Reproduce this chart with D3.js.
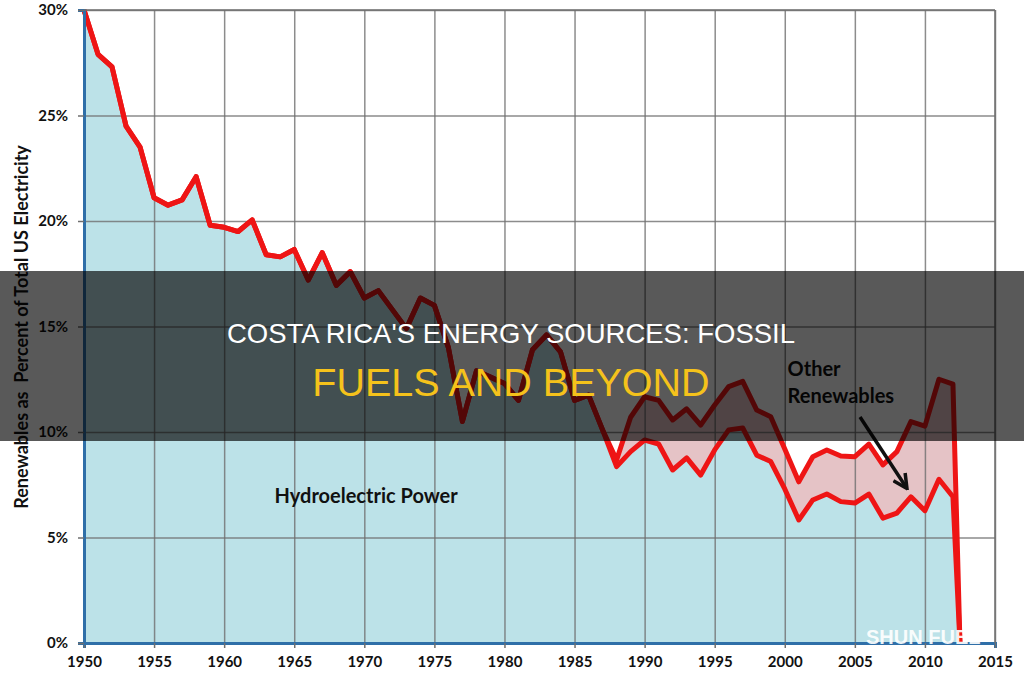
<!DOCTYPE html>
<html>
<head>
<meta charset="utf-8">
<script src="https://cdn.jsdelivr.net/npm/d3@7"></script>
<style>
  body { margin: 0; background: #fff; }
  svg { display: block; }
</style>
</head>
<body>
<div id="chart"></div>
<script>
var years = [1950, 1951, 1952, 1953, 1954, 1955, 1956, 1957, 1958, 1959,
    1960, 1961, 1962, 1963, 1964, 1965, 1966, 1967, 1968, 1969,
    1970, 1971, 1972, 1973, 1974, 1975, 1976, 1977, 1978, 1979,
    1980, 1981, 1982, 1983, 1984, 1985, 1986, 1987, 1988, 1989,
    1990, 1991, 1992, 1993, 1994, 1995, 1996, 1997, 1998, 1999,
    2000, 2001, 2002, 2003, 2004, 2005, 2006, 2007, 2008, 2009,
    2010, 2011, 2012, 2012.5];

// all renewables, % of total electricity
var totalPct = [30.0, 27.9, 27.3, 24.5, 23.5, 21.1, 20.75, 21.0, 22.1, 19.8,
    19.7, 19.5, 20.05, 18.4, 18.3, 18.65, 17.2, 18.5, 16.95, 17.6,
    16.35, 16.7, 15.8, 14.9, 16.35, 16.0, 14.0, 10.5, 12.9, 12.6,
    12.3, 11.5, 13.9, 14.6, 13.8, 11.5, 11.75, 10.1, 8.67, 10.7,
    11.67, 11.5, 10.57, 11.1, 10.33, 11.28, 12.15, 12.4, 11.04, 10.72,
    9.2, 7.64, 8.83, 9.15, 8.86, 8.83, 9.43, 8.44, 9.07, 10.49,
    10.28, 12.5, 12.27, 0];

// hydroelectric only
var hydroPct = [30.0, 27.9, 27.3, 24.5, 23.5, 21.1, 20.75, 21.0, 22.1, 19.8,
    19.7, 19.5, 20.05, 18.4, 18.3, 18.65, 17.2, 18.5, 16.95, 17.6,
    16.35, 16.7, 15.8, 14.9, 16.35, 16.0, 14.0, 10.5, 12.9, 12.6,
    12.3, 11.5, 13.9, 14.6, 13.8, 11.5, 11.75, 10.1, 8.36, 9.07,
    9.62, 9.43, 8.2, 8.77, 7.96, 9.15, 10.1, 10.19, 8.9, 8.6,
    7.3, 5.83, 6.78, 7.06, 6.7, 6.63, 7.06, 5.92, 6.16, 6.93,
    6.27, 7.76, 6.93, 0];

var xTicks = [1950, 1955, 1960, 1965, 1970, 1975, 1980, 1985, 1990, 1995, 2000, 2005, 2010, 2015];
var yTicks = [0, 5, 10, 15, 20, 25, 30];

var data = years.map(function (yr, i) {
    return { year: yr, total: totalPct[i], hydro: hydroPct[i] };
});

var W = 1024, H = 680;
var plotLeft = 84, plotRight = 995, plotTop = 10, plotBottom = 643;

var svg = d3.select("#chart").append("svg")
    .attr("width", W)
    .attr("height", H);

var x = d3.scaleLinear().domain([1950, 2015]).range([plotLeft, plotRight]);
var y = d3.scaleLinear().domain([0, 30]).range([plotBottom, plotTop]);

// areas
svg.append("path")
    .datum(data)
    .attr("fill", "#bce2e8")
    .attr("d", d3.area()
        .x(function (d) { return x(d.year); })
        .y0(y(0))
        .y1(function (d) { return y(d.hydro); }));

svg.append("path")
    .datum(data)
    .attr("fill", "#e5c3c6")
    .attr("d", d3.area()
        .x(function (d) { return x(d.year); })
        .y0(function (d) { return y(d.hydro); })
        .y1(function (d) { return y(d.total); }));

// grid
svg.append("g")
    .attr("transform", "translate(0," + plotBottom + ")")
    .call(d3.axisBottom(x).tickValues(xTicks).tickSize(-(plotBottom - plotTop)).tickFormat(""))
    .call(function (g) {
        g.select(".domain").remove();
        g.selectAll("line").attr("stroke", "#6f6f6f").attr("stroke-opacity", 0.8).attr("stroke-width", 1.5);
    });

svg.append("g")
    .attr("transform", "translate(" + plotLeft + ",0)")
    .call(d3.axisLeft(y).tickValues(yTicks).tickSize(-(plotRight - plotLeft)).tickFormat(""))
    .call(function (g) {
        g.select(".domain").remove();
        g.selectAll("line").attr("stroke", "#6f6f6f").attr("stroke-opacity", 0.8).attr("stroke-width", 1.5);
    });

// lines
var redLine = function (key) {
    return d3.line()
        .x(function (d) { return x(d.year); })
        .y(function (d) { return y(d[key]); });
};

svg.append("path")
    .datum(data)
    .attr("fill", "none")
    .attr("stroke", "#ee1515")
    .attr("stroke-width", 5)
    .attr("stroke-linejoin", "round")
    .attr("d", redLine("hydro"));

svg.append("path")
    .datum(data)
    .attr("fill", "none")
    .attr("stroke", "#ee1515")
    .attr("stroke-width", 5)
    .attr("stroke-linejoin", "round")
    .attr("d", redLine("total"));

// axes
var xAxis = svg.append("g")
    .attr("transform", "translate(0," + plotBottom + ")")
    .call(d3.axisBottom(x).tickValues(xTicks).tickSize(5).tickFormat(d3.format("d")));
xAxis.select(".domain").attr("stroke", "#2f6fa8").attr("stroke-width", 3);
xAxis.selectAll(".tick line").attr("stroke", "#6f6f6f").attr("stroke-width", 1.5);
xAxis.selectAll("text")
    .attr("dy", "1.05em")
    .style("font-family", "Lato, sans-serif")
    .style("font-weight", "bold")
    .style("font-size", "15px")
    .attr("fill", "#111");

var yAxis = svg.append("g")
    .attr("transform", "translate(" + plotLeft + ",0)")
    .call(d3.axisLeft(y).tickValues(yTicks).tickSize(6).tickFormat(function (d) { return d + "%"; }));
yAxis.select(".domain").attr("stroke", "#2f6fa8").attr("stroke-width", 3);
yAxis.selectAll(".tick line").attr("stroke", "#6f6f6f").attr("stroke-width", 1.5);
yAxis.selectAll("text")
    .attr("x", -16)
    .style("font-family", "Lato, sans-serif")
    .style("font-weight", "bold")
    .style("font-size", "15px")
    .attr("fill", "#111");

svg.append("text")
    .attr("transform", "translate(28,327) rotate(-90)")
    .attr("text-anchor", "middle")
    .style("font-family", "Lato, sans-serif")
    .style("font-weight", "bold")
    .style("font-size", "18px")
    .attr("fill", "#111")
    .attr("xml:space", "preserve")
    .text("Renewables as  Percent of Total US Electricity");

// annotations
svg.append("text")
    .attr("x", x(1963.6))
    .attr("y", y(6.64))
    .style("font-family", "Lato, sans-serif")
    .style("font-weight", "bold")
    .style("font-size", "20px")
    .attr("fill", "#111")
    .text("Hydroelectric Power");

svg.append("text")
    .attr("x", x(2000.2))
    .attr("y", y(12.67))
    .style("font-family", "Lato, sans-serif")
    .style("font-weight", "bold")
    .style("font-size", "20px")
    .attr("fill", "#111")
    .text("Other");

svg.append("text")
    .attr("x", x(2000.2))
    .attr("y", y(11.39))
    .style("font-family", "Lato, sans-serif")
    .style("font-weight", "bold")
    .style("font-size", "20px")
    .attr("fill", "#111")
    .text("Renewables");

svg.append("defs").append("marker")
    .attr("id", "head")
    .attr("viewBox", "0 0 10 10")
    .attr("refX", 8)
    .attr("refY", 5)
    .attr("markerWidth", 5)
    .attr("markerHeight", 5)
    .attr("orient", "auto")
    .append("path")
    .attr("d", "M1,1 L9,5 L1,9")
    .attr("fill", "none")
    .attr("stroke", "#111")
    .attr("stroke-width", 2);

svg.append("line")
    .attr("x1", x(2005.37)).attr("y1", y(10.71))
    .attr("x2", x(2008.65)).attr("y2", y(7.39))
    .attr("stroke", "#111")
    .attr("stroke-width", 3.5)
    .attr("marker-end", "url(#head)");

// frame
svg.append("line")
    .attr("x1", plotLeft).attr("x2", plotRight).attr("y1", plotTop).attr("y2", plotTop)
    .attr("stroke", "#6f6f6f").attr("stroke-width", 1.5);
svg.append("line")
    .attr("x1", plotRight).attr("x2", plotRight).attr("y1", plotTop).attr("y2", plotBottom)
    .attr("stroke", "#6f6f6f").attr("stroke-width", 1.5);

// watermark
svg.append("text")
    .attr("x", 866)
    .attr("y", 644)
    .style("font-family", "'Liberation Sans', sans-serif")
    .style("font-weight", "bold")
    .style("font-size", "20px")
    .attr("fill", "#fff")
    .attr("fill-opacity", 0.92)
    .text("SHUN FUEL");

// title band
svg.append("rect")
    .attr("x", 0).attr("y", 271)
    .attr("width", W).attr("height", 170)
    .attr("fill", "#000")
    .attr("fill-opacity", 0.65);

svg.append("text")
    .attr("x", 511)
    .attr("y", 343)
    .attr("text-anchor", "middle")
    .style("font-family", "'Liberation Sans', Arial, sans-serif")
    .style("font-size", "27.5px")
    .attr("fill", "#fff")
    .text("COSTA RICA'S ENERGY SOURCES: FOSSIL");

svg.append("text")
    .attr("x", 511)
    .attr("y", 396)
    .attr("text-anchor", "middle")
    .style("font-family", "'Liberation Sans', Arial, sans-serif")
    .style("font-size", "39.5px")
    .attr("fill", "#f5c21b")
    .text("FUELS AND BEYOND");
</script>
</body>
</html>
